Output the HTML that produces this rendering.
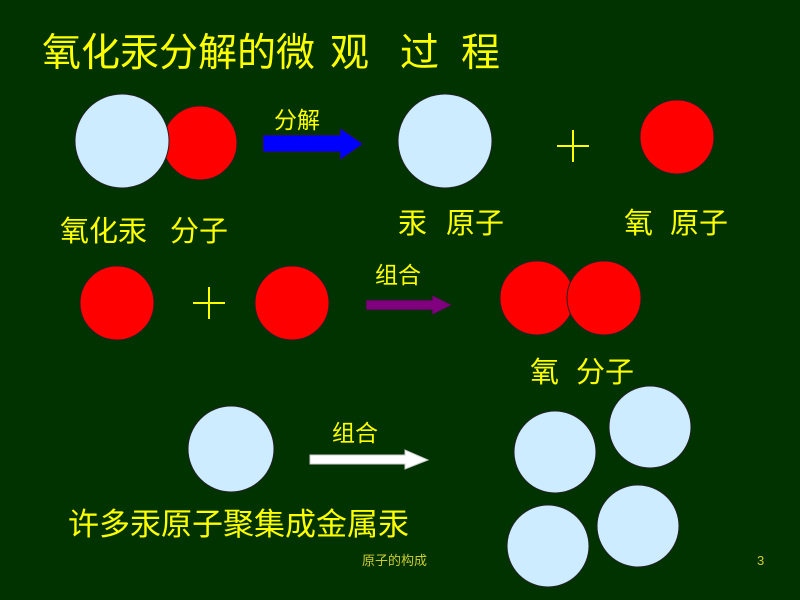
<!DOCTYPE html>
<html><head><meta charset="utf-8"><style>
body{margin:0;width:800px;height:600px;background:#003300;overflow:hidden;position:relative;font-family:"Liberation Sans","Noto Sans CJK SC",sans-serif}
.t{position:absolute;color:#ffff00;white-space:pre;line-height:1}
</style></head><body>
<svg width="800" height="600" style="position:absolute;left:0;top:0">
<g stroke="#222" stroke-width="1">
<circle cx="200" cy="143" r="37" fill="#f00"/>
<circle cx="122" cy="141" r="47" fill="#cdecff"/>
<circle cx="445" cy="141" r="47" fill="#cdecff"/>
<circle cx="677" cy="137" r="37" fill="#f00"/>
<circle cx="117" cy="303" r="37" fill="#f00"/>
<circle cx="292" cy="303" r="37" fill="#f00"/>
<circle cx="537" cy="298" r="37" fill="#f00"/>
<circle cx="604" cy="298" r="37" fill="#f00"/>
<circle cx="231" cy="449" r="43" fill="#cdecff"/>
<circle cx="555" cy="452" r="41" fill="#cdecff"/>
<circle cx="650" cy="427" r="41" fill="#cdecff"/>
<circle cx="548" cy="546" r="41" fill="#cdecff"/>
<circle cx="638" cy="526" r="41" fill="#cdecff"/>
<polygon points="263,135 340,135 340,128 363,144 340,160 340,152 263,152" fill="#0000ff"/>
<polygon points="366,300 432,300 432,295 452,305 432,315 432,310 366,310" fill="#800080"/>
<polygon points="310,455 405,455 405,450 428,460 405,469 405,464 310,464" fill="#fff" stroke="#ccc"/>
</g>
<g stroke="#ffff00" stroke-width="2">
<line x1="557" y1="146" x2="589" y2="146"/><line x1="573" y1="130" x2="573" y2="162"/>
<line x1="193" y1="303" x2="225" y2="303"/><line x1="209" y1="287" x2="209" y2="319"/>
</g>
</svg>
<div class="t" style="left:42px;top:34px;font-size:39px">氧化汞分解的微</div>
<div class="t" style="left:330px;top:34px;font-size:39px">观</div>
<div class="t" style="left:400px;top:34px;font-size:39px">过</div>
<div class="t" style="left:461px;top:34px;font-size:39px">程</div>
<div class="t" style="left:274px;top:109px;font-size:23px">分解</div>
<div class="t" style="left:60px;top:218px;font-size:29px">氧化汞</div>
<div class="t" style="left:170px;top:218px;font-size:29px">分子</div>
<div class="t" style="left:398px;top:210px;font-size:29px">汞</div>
<div class="t" style="left:446px;top:210px;font-size:29px">原子</div>
<div class="t" style="left:624px;top:210px;font-size:29px">氧</div>
<div class="t" style="left:670px;top:210px;font-size:29px">原子</div>
<div class="t" style="left:375px;top:264px;font-size:23px">组合</div>
<div class="t" style="left:530px;top:359px;font-size:29px">氧</div>
<div class="t" style="left:576px;top:359px;font-size:29px">分子</div>
<div class="t" style="left:332px;top:422px;font-size:23px">组合</div>
<div class="t" style="left:68px;top:509px;font-size:31px">许多汞原子聚集成金属汞</div>
<div class="t" style="left:362px;top:554px;font-size:13px;color:#cccc33">原子的构成</div>
<div class="t" style="left:757px;top:554px;font-size:13px;color:#cccc33">3</div>
</body></html>
